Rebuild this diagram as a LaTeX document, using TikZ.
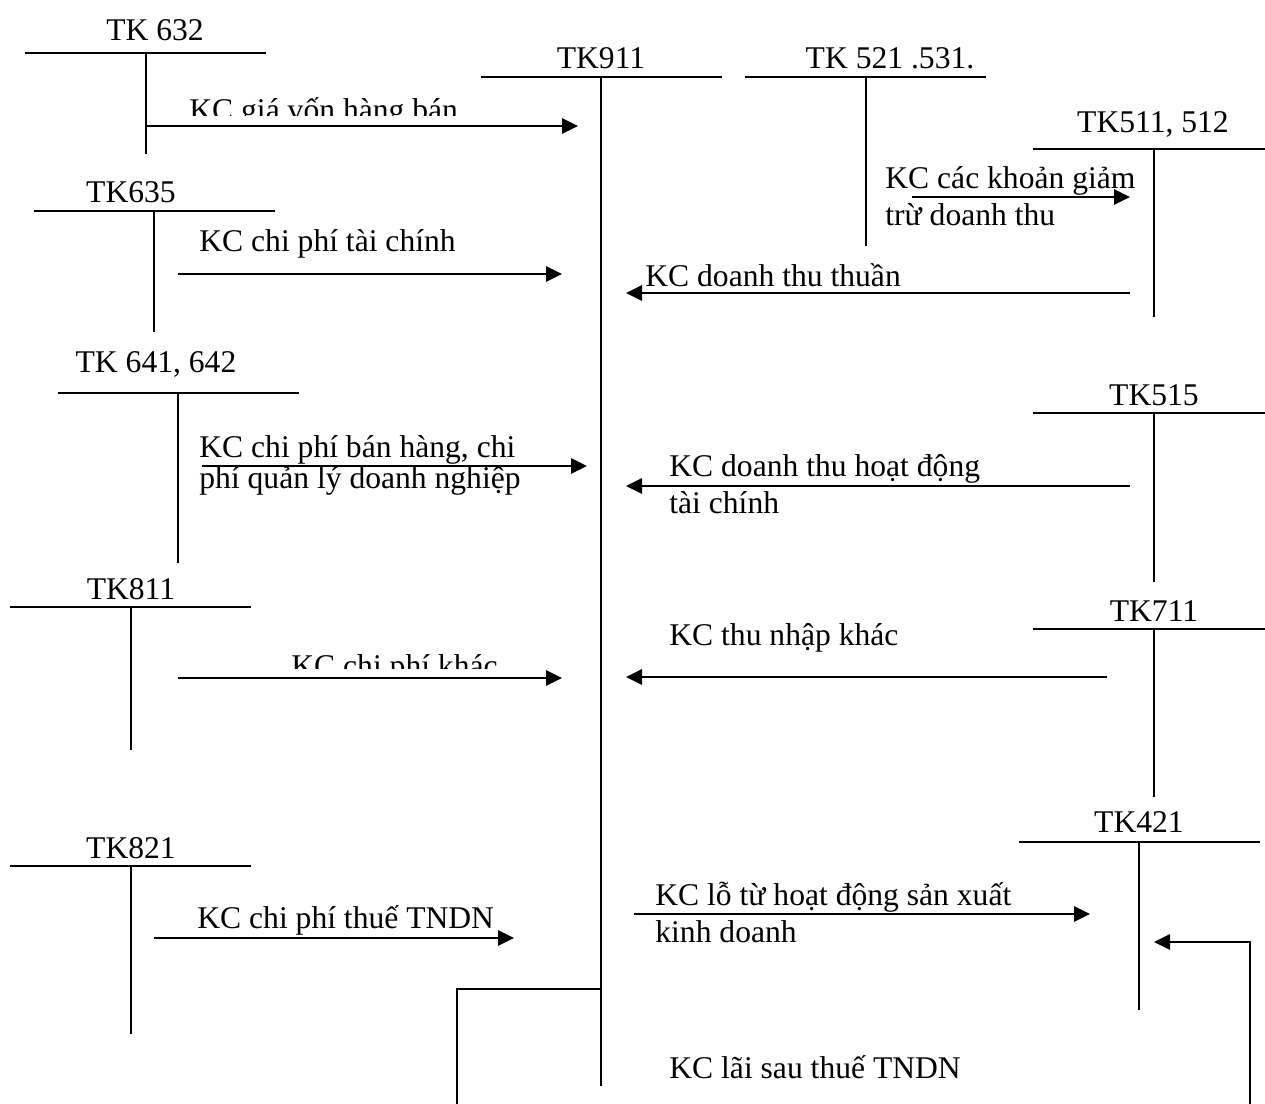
\documentclass[tikz,border=0pt]{standalone}
\usepackage{fontspec}
\setmainfont{Liberation Serif}
\usetikzlibrary{arrows.meta}

\begin{document}
\begin{tikzpicture}[
  x=0.5pt, y=-0.5pt,
  font=\fontsize{15.8}{18.5}\selectfont,
  acct/.style={anchor=base, inner sep=0pt},
  note/.style={anchor=base west, inner sep=0pt, align=left},
  tline/.style={line width=0.9pt},
  flow/.style={-{Triangle[length=8pt,width=7.5pt]}, line width=1.4pt}
]
  \useasboundingbox (0,0) rectangle (1265,1104);

  % T-accounts, left column
  \node[acct] (t632) at (155,40) {TK 632};
  \draw[tline] (25,53) -- (266,53) (146,53) -- (146,154);
  \node[acct] (t635) at (131,202) {TK635};
  \draw[tline] (34,211) -- (275,211) (154,211) -- (154,332);
  \node[acct] (t641) at (156,372) {TK 641, 642};
  \draw[tline] (58,393) -- (299,393) (178,393) -- (178,563);
  \node[acct] (t811) at (131,599) {TK811};
  \draw[tline] (10,607) -- (251,607) (131,607) -- (131,750);
  \node[acct] (t821) at (131,858) {TK821};
  \draw[tline] (10,866) -- (251,866) (131,866) -- (131,1034);

  % TK911 in the middle
  \node[acct] (t911) at (601,68) {TK911};
  \draw[tline] (481,77) -- (722,77) (601,77) -- (601,1086);

  % T-accounts, right column
  \node[acct] (t521) at (890,68) {TK 521 .531.};
  \draw[tline] (745,77) -- (986,77) (866,77) -- (866,246);
  \node[acct] (t511) at (1153,132) {TK511, 512};
  \draw[tline] (1033,149) -- (1265,149) (1154,149) -- (1154,317);
  \node[acct] (t515) at (1154,405) {TK515};
  \draw[tline] (1033,413) -- (1265,413) (1154,413) -- (1154,582);
  \node[acct] (t711) at (1154,621) {TK711};
  \draw[tline] (1033,629) -- (1265,629) (1154,629) -- (1154,797);
  \node[acct] (t421) at (1139,832) {TK421};
  \draw[tline] (1019,842) -- (1260,842) (1139,842) -- (1139,1010);

  % arrow ends
  \coordinate (k632) at (146,126);  \coordinate (n632) at (578,126);
  \coordinate (k635) at (178,274);  \coordinate (n635) at (562,274);
  \coordinate (k641) at (202,466);  \coordinate (n641) at (587,466);
  \coordinate (k811) at (178,678);  \coordinate (n811) at (562,678);
  \coordinate (k821) at (154,938);  \coordinate (n821) at (514,938);
  \coordinate (k521) at (912,197);  \coordinate (n521) at (1130,197);
  \coordinate (k511) at (1130,293); \coordinate (n511) at (626,293);
  \coordinate (k515) at (1130,486); \coordinate (n515) at (626,486);
  \coordinate (k711) at (1107,677); \coordinate (n711) at (626,677);
  \coordinate (k911) at (634,914);  \coordinate (n911) at (1090,914);
  \coordinate (lai) at (601,989);   \coordinate (laiend) at (457,1104);
  \coordinate (laistart) at (1250,1104); \coordinate (n421) at (1154,942);

  \draw[flow] (k632) -- (n632);
  \draw[flow] (k635) -- (n635);
  \draw[flow] (k641) -- (n641);
  \draw[flow] (k811) -- (n811);
  \draw[flow] (k821) -- (n821);
  \draw[flow] (k521) -- (n521);
  \draw[flow] (k511) -- (n511);
  \draw[flow] (k515) -- (n515);
  \draw[flow] (k711) -- (n711);
  \draw[flow] (k911) -- (n911);
  \draw[tline] (lai) -| (laiend);
  \draw[flow] (laistart) |- (n421);

  % labels (two-line labels sit on their last baseline)
  \begin{scope}
    \clip (180,80) rectangle (470,115);
    \node[note] (lgv) at (189,120) {KC giá vốn hàng bán};
  \end{scope}
  \node[note] (ltc) at (199,251) {KC chi phí tài chính};
  \node[note, font=\fontsize{15.8}{15.5}\selectfont] (lbh) at (199,488) {KC chi phí bán hàng, chi\\phí quản lý doanh nghiệp};
  \begin{scope}
    \clip (280,640) rectangle (510,668);
    \node[note] (lck) at (291,676) {KC chi phí khác};
  \end{scope}
  \node[note] (lth) at (197,928) {KC chi phí thuế TNDN};
  \node[note] (lgt) at (885,225) {KC các khoản giảm\\trừ doanh thu};
  \node[note] (ldt) at (645,286) {KC doanh thu thuần};
  \node[note] (lhd) at (669,513) {KC doanh thu hoạt động\\tài chính};
  \node[note] (lnk) at (669,645) {KC thu nhập khác};
  \node[note] (llo) at (655,942) {KC lỗ từ hoạt động sản xuất\\kinh doanh};
  \node[note] (lls) at (669,1078) {KC lãi sau thuế TNDN};
\end{tikzpicture}
\end{document}
